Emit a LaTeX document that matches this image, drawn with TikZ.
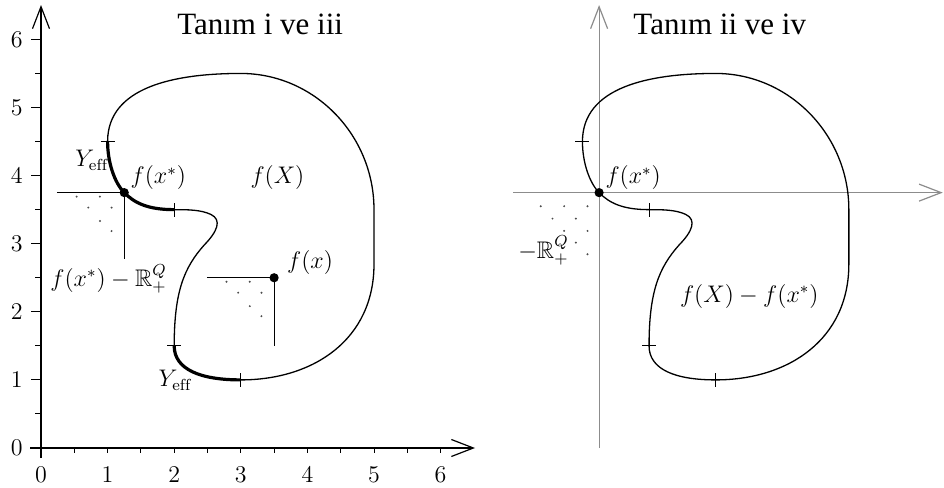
\documentclass[tikz,border=0pt]{standalone}
\usepackage{amssymb}
\usepackage{fontspec}
\newfontfamily\titlefont{Liberation Serif}
\usetikzlibrary{arrows.meta}
\newcommand\kidneypath{(1,4.5) .. controls (1,5.3) and (2,5.5) .. (3,5.5)
 .. controls (4.1,5.5) and (5,4.6) .. (5,3.5)
 .. controls (5,3.2) and (5,3.0) .. (5,2.7)
 .. controls (5,1.6) and (4.1,1.0) .. (3,1)
 .. controls (2.4,1) and (2,1.15) .. (2,1.5)
 .. controls (2,2.3) and (2.15,2.65) .. (2.45,2.98)
 .. controls (2.65,3.18) and (2.72,3.35) .. (2.55,3.43)
 .. controls (2.4,3.5) and (2.2,3.5) .. (2,3.5)
 .. controls (1.6,3.5) and (1.4,3.6) .. (1.25,3.75)
 .. controls (1.1,3.9) and (1,4.2) .. (1,4.5)}
\begin{document}
\begin{tikzpicture}[x=33.3pt,y=34.05pt,
  curve/.style={line width=0.65pt},
  effpart/.style={line width=1.6pt},
  axis/.style={line width=0.6pt,-{Straight Barb[length=11pt,width=8.5pt]}},
  gaxis/.style={line width=0.6pt,draw=black!45,-{Straight Barb[length=11pt,width=8.5pt]}},
  lbl/.style={inner sep=0pt,font=\fontsize{12}{14}\selectfont},
  ttl/.style={inner sep=0pt,anchor=base west,font=\titlefont\fontsize{15.5}{18}\selectfont},
  tickmk/.style={line width=0.5pt},
  dotmk/.style={fill=black!70},
  pt/.style={fill=black}]
\useasboundingbox (-20.5pt,-20pt) rectangle (451.5pt,224pt);
% ---------- left plot ----------
\draw[axis] (-0.165,0) -- (6.517,0);
\draw[axis] (0,-0.15) -- (0,6.505);
\foreach \i in {1,...,6} \draw[tickmk] (\i,0) -- +(0,-2.5pt);
\foreach \i in {0.5,1.5,...,5.5} \draw[tickmk] (\i,0) -- +(0,-2.5pt);
\foreach \i in {1,...,6} \draw[tickmk] (0,\i) -- +(-5pt,0);
\foreach \i in {0.5,1.5,...,5.5} \draw[tickmk] (0,\i) -- +(-3pt,0);
\foreach \i in {0,...,6} {
  \node[lbl] (xl\i) at (\i,-0.40) {$\i$};
  \node[lbl] (yl\i) at (-0.365,\i) {$\i$};
}
\draw[curve] \kidneypath;
\draw[effpart] (2,3.5) .. controls (1.6,3.5) and (1.4,3.6) .. (1.25,3.75)
  .. controls (1.1,3.9) and (1,4.2) .. (1,4.5);
\draw[effpart] (3,1) .. controls (2.4,1) and (2,1.15) .. (2,1.5);
\foreach \p in {(1,4.5),(2,3.5),(2,1.5),(3,1)}
  \draw[tickmk] \p ++(-3.5pt,0) -- ++(7pt,0) \p ++(0,-3.5pt) -- ++(0,7pt);
% cone at f(x*)
\coordinate (fs) at (1.25,3.75);
\coordinate (fsh) at (0.24,3.75);
\coordinate (fsv) at (1.25,2.78);
\draw[line width=0.6pt] (fsh) -- (fs) -- (fsv);
\foreach \d in {(-0.715,-0.059),(-0.365,-0.059),(-0.54,-0.22),(-0.19,-0.22),(-0.365,-0.417),(-0.19,-0.564)}
  \fill[dotmk] (fs) ++\d circle (0.55pt);
\fill[pt] (fs) circle (2.3pt);
% cone at f(x)
\coordinate (fx) at (3.5,2.5);
\coordinate (fxh) at (2.49,2.5);
\coordinate (fxv) at (3.5,1.5);
\draw[line width=0.6pt] (fxh) -- (fx) -- (fxv);
\foreach \d in {(-0.715,-0.059),(-0.365,-0.059),(-0.54,-0.22),(-0.19,-0.22),(-0.365,-0.417),(-0.19,-0.564)}
  \fill[dotmk] (fx) ++\d circle (0.55pt);
\fill[pt] (fx) circle (2.3pt);
% labels left
\node[lbl,anchor=base west] (ye1) at (0.51,4.13) {$Y_{\mathrm{eff}}$};
\node[lbl,anchor=base west] (lfs) at (1.34,3.88) {$f(x^*)$};
\node[lbl,anchor=base west] (lfX) at (3.14,3.88) {$f(X)$};
\node[lbl,anchor=base west] (lcone) at (0.135,2.37) {$f(x^*)-\mathbb{R}^Q_+$};
\node[lbl,anchor=base west] (lfx) at (3.69,2.63) {$f(x)$};
\node[lbl,anchor=base west] (ye2) at (1.76,0.90) {$Y_{\mathrm{eff}}$};
\node[ttl] (t1) at (2.04,6.065) {Tanım i ve iii};
% ---------- right plot ----------
\draw[gaxis] (7.09,3.75) -- (13.54,3.75);
\draw[gaxis] (8.38,0) -- (8.38,6.505);
\begin{scope}[shift={(7.13,0)}]
\draw[curve] \kidneypath;
\foreach \p in {(1,4.5),(2,3.5),(2,1.5),(3,1)}
  \draw[tickmk] \p ++(-3.5pt,0) -- ++(7pt,0) \p ++(0,-3.5pt) -- ++(0,7pt);
\coordinate (rs) at (1.25,3.75);
\foreach \d in {(-0.875,-0.2),(-0.525,-0.2),(-0.174,-0.2),(-0.7,-0.382),(-0.35,-0.382),(-0.525,-0.562),(-0.174,-0.562),(-0.35,-0.734),(-0.174,-0.905)}
  \fill[dotmk] (rs) ++\d circle (0.55pt);
\fill[pt] (rs) circle (2.3pt);
\end{scope}
\node[lbl,anchor=base west] (rfs) at (8.47,3.88) {$f(x^*)$};
\node[lbl,anchor=base west] (rcone) at (7.16,2.79) {$-\mathbb{R}^Q_+$};
\node[lbl,anchor=base west] (rdiff) at (9.59,2.14) {$f(X)-f(x^*)$};
\node[ttl] (t2) at (8.89,6.065) {Tanım ii ve iv};
\end{tikzpicture}
\end{document}
